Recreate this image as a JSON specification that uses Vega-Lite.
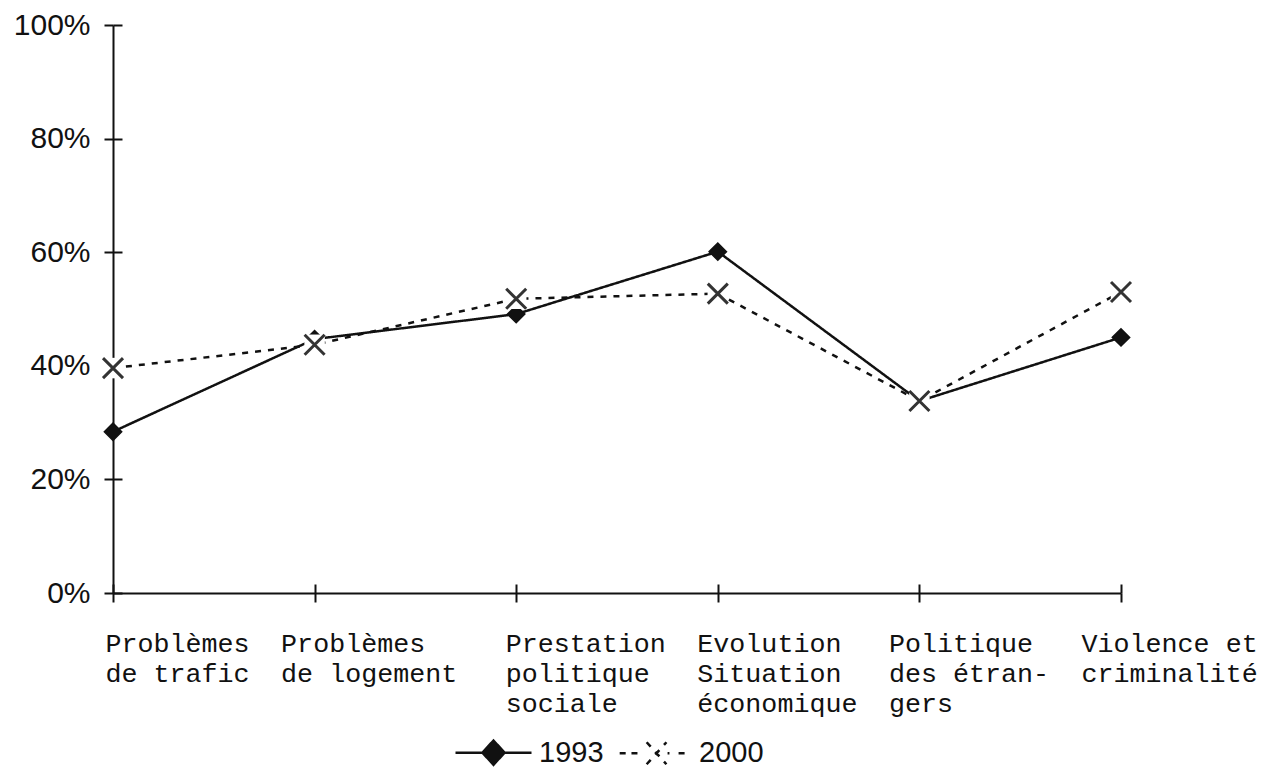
{
  "$schema": "https://vega.github.io/schema/vega-lite/v6.json",
  "width": 1008,
  "height": 568,
  "padding": {"left": 13, "top": 10, "right": 0, "bottom": 20},
  "background": "white",
  "config": {
    "view": {"stroke": null},
    "axis": {"grid": false},
    "legend": {"symbolStrokeColor": "#111", "symbolFillColor": "#111", "symbolStrokeWidth": 2.5}
  },
  "data": {
    "values": [
      {"cat": "Problèmes|de trafic", "year": "1993", "value": 28.4},
      {"cat": "Problèmes|de logement", "year": "1993", "value": 44.7},
      {"cat": "Prestation|politique|sociale", "year": "1993", "value": 49.1},
      {"cat": "Evolution|Situation|économique", "year": "1993", "value": 60.1},
      {"cat": "Politique|des étran-|gers", "year": "1993", "value": 33.8},
      {"cat": "Violence et|criminalité", "year": "1993", "value": 45.0},
      {"cat": "Problèmes|de trafic", "year": "2000", "value": 39.6},
      {"cat": "Problèmes|de logement", "year": "2000", "value": 43.7},
      {"cat": "Prestation|politique|sociale", "year": "2000", "value": 51.8},
      {"cat": "Evolution|Situation|économique", "year": "2000", "value": 52.7},
      {"cat": "Politique|des étran-|gers", "year": "2000", "value": 33.8},
      {"cat": "Violence et|criminalité", "year": "2000", "value": 53.0}
    ]
  },
  "resolve": {"axis": {"x": "independent", "y": "independent"}},
  "layer": [
    {
      "mark": {"type": "point", "filled": false, "color": "#111", "strokeWidth": 2.5, "size": 40, "opacity": 1},
      "encoding": {
        "x": {"field": "cat", "type": "nominal", "sort": null, "axis": null},
        "y": {"field": "value", "type": "quantitative", "axis": null},
        "shape": {
          "field": "year", "type": "nominal",
          "scale": {
            "domain": ["1993", "2000"],
            "range": [
              "M-1,0L1,0M0,-0.32L0.29,0L0,0.32L-0.29,0ZM0,-0.25L0.23,0L0,0.25L-0.23,0ZM0,-0.19L0.17,0L0,0.19L-0.17,0ZM0,-0.12L0.11,0L0,0.12L-0.11,0ZM0,-0.06L0.05,0L0,0.06L-0.05,0ZM0,-0.3L0,0.3",
              "M-0.89,0L-0.71,0M-0.58,0L-0.39,0M-0.18,-0.29L0.34,0.29M-0.18,0.29L0.34,-0.29M0.37,0L0.42,0M0.66,0L0.82,0"
            ]
          },
          "legend": {
            "title": null,
            "orient": "none",
            "direction": "horizontal",
            "legendX": 341,
            "legendY": 688,
            "padding": 0,
            "symbolSize": 5776,
            "symbolOpacity": 1,
            "symbolFillColor": "#111",
            "symbolStrokeColor": "#111",
            "symbolStrokeWidth": 2.5,
            "labelFont": "Liberation Sans",
            "labelFontSize": 29,
            "labelColor": "#111",
            "labelOffset": 6,
            "columnPadding": 10
          }
        }
      }
    },
    {
      "mark": {"type": "line", "color": "#111", "strokeWidth": 2.5},
      "encoding": {
        "x": {
          "field": "cat", "type": "nominal", "sort": null,
          "scale": {"type": "point", "padding": 0},
          "axis": {
            "title": null,
            "orient": "bottom",
            "labelExpr": "split(datum.label, '|')",
            "labelAngle": 0,
            "labelAlign": "left",
            "labelBaseline": "top",
            "labelFont": "Liberation Mono",
            "labelFontSize": 26.7,
            "labelLineHeight": 30,
            "labelColor": "#111",
            "labelPadding": 28,
            "labelOverlap": false,
            "labelBound": false,
            "labelOffset": {
              "condition": [
                {"test": "datum.value == 'Problèmes|de trafic'", "value": -8},
                {"test": "datum.value == 'Problèmes|de logement'", "value": -34},
                {"test": "datum.value == 'Prestation|politique|sociale'", "value": -11},
                {"test": "datum.value == 'Evolution|Situation|économique'", "value": -21},
                {"test": "datum.value == 'Politique|des étran-|gers'", "value": -31}
              ],
              "value": -40
            },
            "tickSize": 9,
            "tickWidth": 2,
            "tickColor": "#111",
            "domainColor": "#111",
            "domainWidth": 2
          }
        },
        "y": {
          "field": "value", "type": "quantitative",
          "scale": {"domain": [0, 100], "nice": false},
          "axis": {
            "title": null,
            "orient": "left",
            "values": [0, 20, 40, 60, 80, 100],
            "labelExpr": "datum.value + '%'",
            "labelFont": "Liberation Sans",
            "labelFontSize": 30,
            "labelColor": "#111",
            "labelPadding": 14,
            "tickSize": 9,
            "tickWidth": 2,
            "tickColor": "#111",
            "domainColor": "#111",
            "domainWidth": 2
          }
        },
        "detail": {"field": "year"},
        "strokeDash": {
          "field": "year", "type": "nominal",
          "scale": {"domain": ["1993", "2000"], "range": [[1, 0], [6, 7]]},
          "legend": null
        }
      }
    },
    {
      "transform": [{"filter": "datum.year == '1993'"}],
      "mark": {"type": "point", "shape": "diamond", "filled": true, "color": "#111", "stroke": "#111", "strokeWidth": 1.5, "size": 300, "opacity": 1},
      "encoding": {
        "x": {
          "field": "cat", "type": "nominal", "sort": null,
          "axis": {"orient": "bottom", "title": null, "labels": false, "domain": false, "tickSize": -9, "tickWidth": 2, "tickColor": "#111"}
        },
        "y": {
          "field": "value", "type": "quantitative",
          "axis": {"orient": "left", "title": null, "labels": false, "domain": false, "values": [0, 20, 40, 60, 80, 100], "tickSize": -9, "tickWidth": 2, "tickColor": "#111"}
        }
      }
    },
    {
      "transform": [{"filter": "datum.year == '2000'"}],
      "mark": {"type": "point", "shape": "square", "filled": true, "color": "white", "size": 420, "opacity": 1},
      "encoding": {
        "x": {"field": "cat", "type": "nominal", "sort": null, "axis": null},
        "y": {"field": "value", "type": "quantitative", "axis": null}
      }
    },
    {
      "transform": [{"filter": "datum.year == '2000'"}],
      "mark": {"type": "point", "shape": "M-1,-1L1,1M-1,1L1,-1", "filled": false, "stroke": "#333", "strokeWidth": 3, "size": 400, "opacity": 1},
      "encoding": {
        "x": {"field": "cat", "type": "nominal", "sort": null, "axis": null},
        "y": {"field": "value", "type": "quantitative", "axis": null}
      }
    }
  ]
}
